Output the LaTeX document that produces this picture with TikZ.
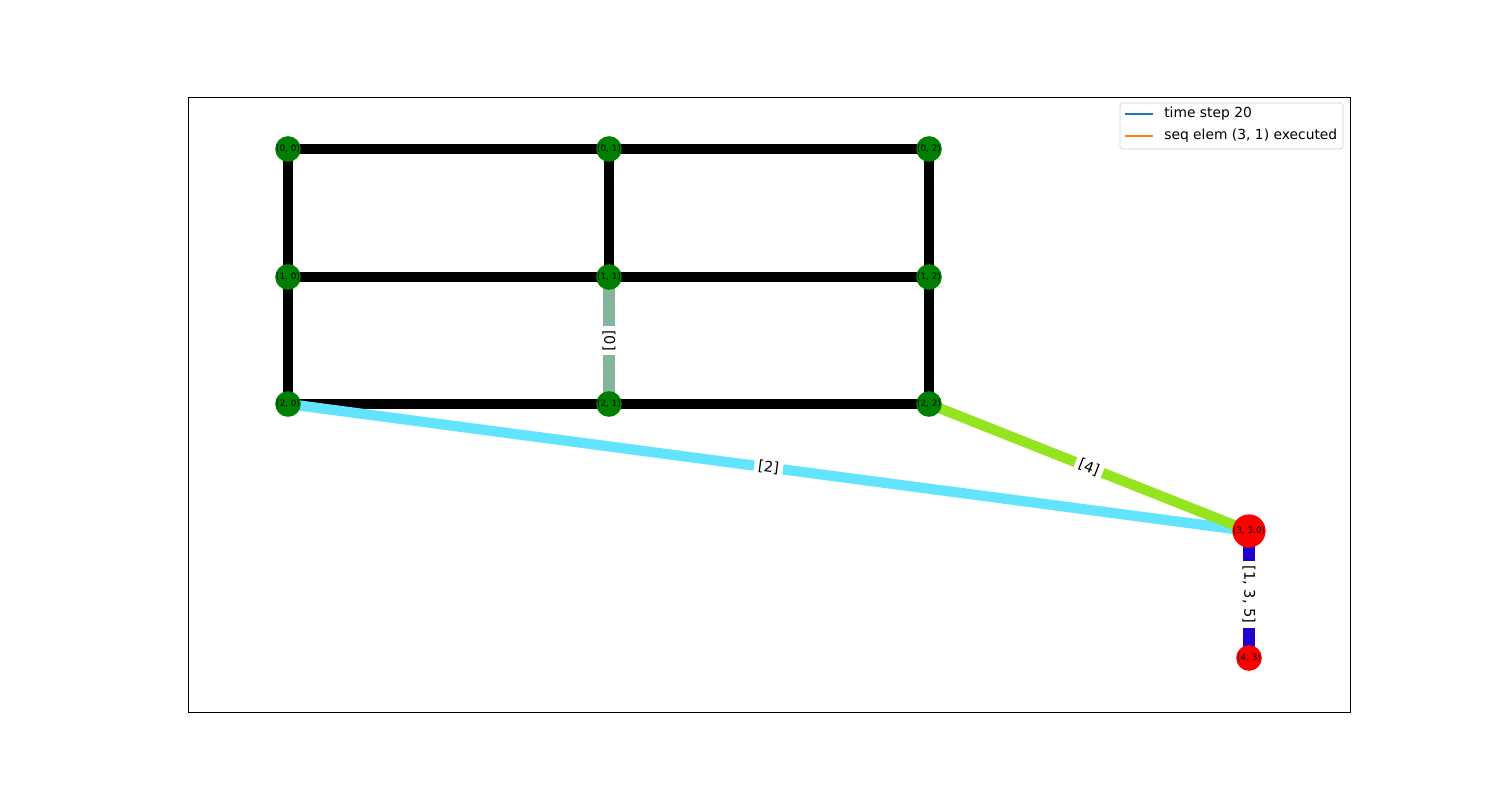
\documentclass[tikz,border=0pt]{standalone}
\usepackage{fontspec}
\setsansfont{DejaVu Sans}
\usepackage{xcolor}
\definecolor{NodeGreen}{HTML}{008000}
\definecolor{NodeRed}{HTML}{FF0000}
\definecolor{Sage}{HTML}{84B59A}
\definecolor{Sky}{HTML}{62E4FF}
\definecolor{Lime}{HTML}{94E41F}
\definecolor{Indigo}{HTML}{1E00D0}
\definecolor{TabBlue}{HTML}{1F77B4}
\definecolor{TabOrange}{HTML}{FF7F0E}
\colorlet{nodegreen}{NodeGreen}
\colorlet{nodered}{NodeRed}
\usepackage{tikz}
\usetikzlibrary{positioning,calc,backgrounds}

\begin{document}
\begin{tikzpicture}[x=0.01in,y=-0.01in, every node/.style={font=\sffamily},
  vtx/.style={circle,inner sep=0pt,minimum size=18.5pt,font=\sffamily\fontsize{6.4}{6.4}\selectfont},
  gridedge/.style={line width=7.4pt},
  elabel/.style={fill=white,text=black,inner sep=3pt,font=\sffamily\fontsize{10.6}{12}\selectfont}]
\useasboundingbox (0,0) rectangle (1500,800);
\draw[line width=0.6pt] (188,97) rectangle (1350,712);
% grid nodes
\node[vtx,fill=nodegreen] (n00) at (288,149) {(0, 0)};\node[vtx,fill=nodegreen] (n01) at (609,149) {(0, 1)};\node[vtx,fill=nodegreen] (n02) at (929,149) {(0, 2)};
\node[vtx,fill=nodegreen] (n10) at (288,277) {(1, 0)};\node[vtx,fill=nodegreen] (n11) at (609,277) {(1, 1)};\node[vtx,fill=nodegreen] (n12) at (929,277) {(1, 2)};
\node[vtx,fill=nodegreen] (n20) at (288,404) {(2, 0)};\node[vtx,fill=nodegreen] (n21) at (609,404) {(2, 1)};\node[vtx,fill=nodegreen] (n22) at (929,404) {(2, 2)};
\node[vtx,fill=nodered] (n33) at (1249,531) {(3, 3.0)};
\node[vtx,fill=nodered] (n43) at (1249,658) {(4, 3)};
% edges behind the nodes
\begin{scope}[on background layer]
\draw[gridedge] (n00.center)--(n01.center);\draw[gridedge] (n01.center)--(n02.center);
\draw[gridedge] (n10.center)--(n11.center);\draw[gridedge] (n11.center)--(n12.center);
\draw[gridedge] (n20.center)--(n21.center);\draw[gridedge] (n21.center)--(n22.center);
\draw[gridedge] (n00.center)--(n10.center);\draw[gridedge] (n10.center)--(n20.center);
\draw[gridedge] (n01.center)--(n11.center);\draw[gridedge] (n02.center)--(n12.center);\draw[gridedge] (n12.center)--(n22.center);
\draw[gridedge,Sky] (n20.center)--(n33.center) node[elabel,midway,rotate=-7.5] {[2]};
\draw[gridedge,Lime] (n22.center)--(n33.center) node[elabel,midway,rotate=-21.6] {[4]};
\draw[gridedge,Sage,line width=8pt] (n11.center)--(n21.center) node[elabel,midway,rotate=-90] {[0]};
\draw[gridedge,Indigo,line width=8pt] (n33.center)--(n43.center) node[elabel,midway,rotate=-90] {[1, 3, 5]};
\end{scope}
% legend
\draw[rounded corners=2pt,draw=black!20,fill=white] (1120,103) rectangle (1343,149);
\coordinate (ka) at (1125,114);\coordinate (kb) at (1125,136);
\node[anchor=west,font=\sffamily\fontsize{10}{12}\selectfont,inner sep=0pt] (la) at (1164,114) {time step 20};
\node[anchor=west,font=\sffamily\fontsize{10}{12}\selectfont,inner sep=0pt] (lb) at (1164,136) {seq elem (3, 1) executed};
\draw[TabBlue,line width=1.1pt] (ka)--++(28,0);
\draw[TabOrange,line width=1.1pt] (kb)--++(28,0);
\end{tikzpicture}
\end{document}
